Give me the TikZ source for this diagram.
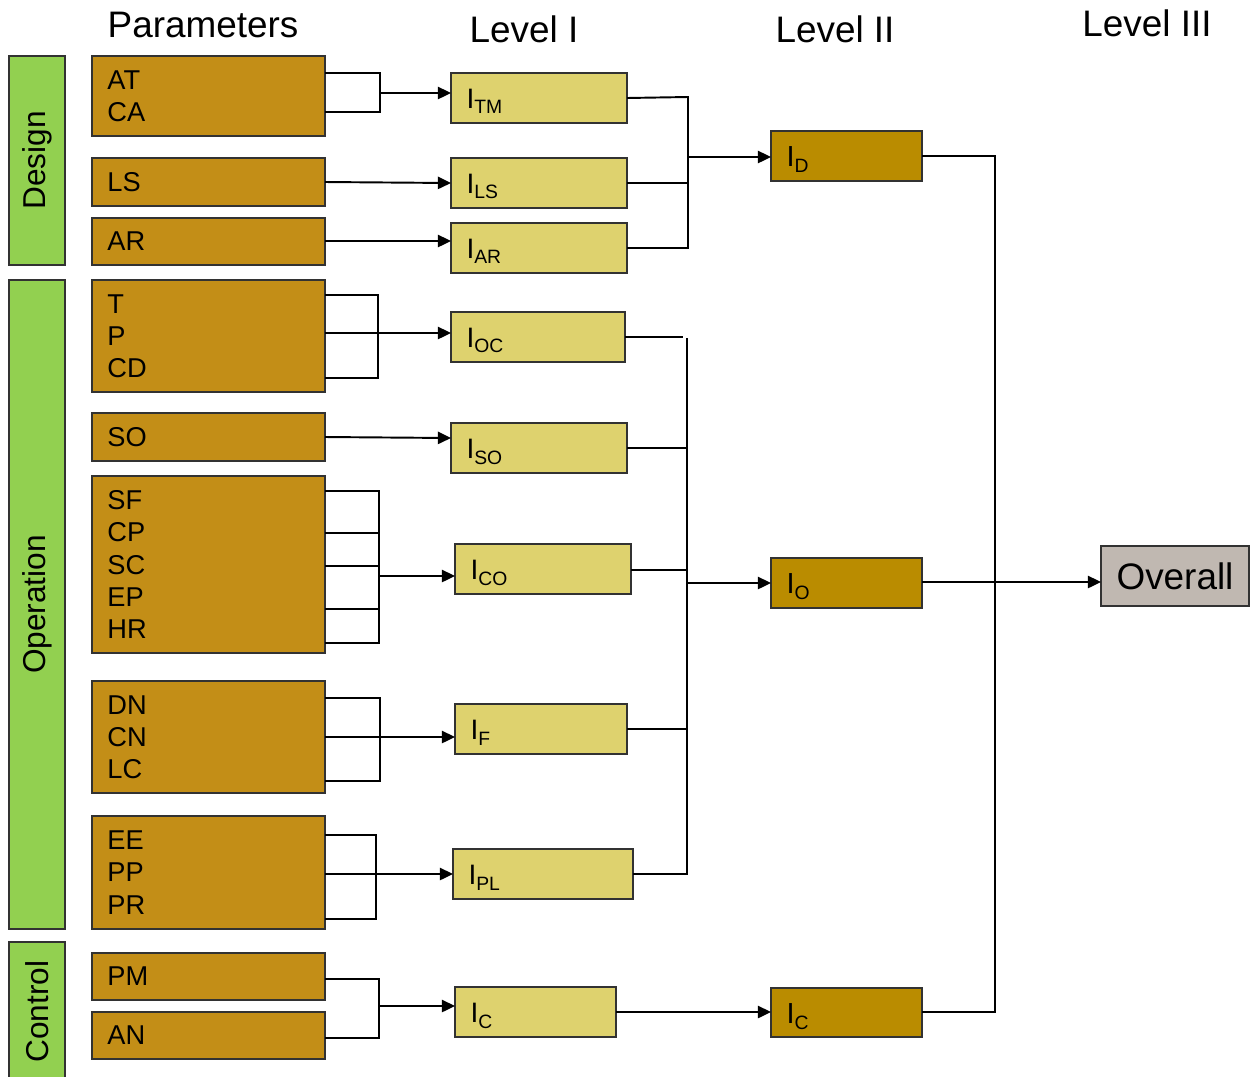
\documentclass[tikz,border=0pt]{standalone}
\usepackage{fontspec}
\setmainfont{Liberation Sans}
\usetikzlibrary{arrows.meta}
\definecolor{pcol}{RGB}{195,142,23}
\definecolor{lonecol}{RGB}{222,210,110}
\definecolor{ltwocol}{RGB}{186,140,0}
\definecolor{gcol}{RGB}{146,208,80}
\definecolor{ovcol}{RGB}{192,184,177}
\definecolor{bcol}{RGB}{50,50,50}
\newcommand\sbs[1]{\raisebox{-3.4pt}{\fontsize{11}{11}\selectfont #1}}
\newcommand\bx[7]{\node[#6, anchor=north west, minimum width={(#4-#2)*0.02cm}, minimum height={(#5-#3)*0.02cm}, text width={(#4-#2)*0.02cm-0.62cm}] (#1) at (#2,#3) {#7};}
\tikzset{
  boxbase/.style={draw=bcol, line width=0.7pt, rectangle, inner xsep=0.31cm, inner ysep=0pt, outer sep=0pt, align=left},
  pbox/.style={boxbase, fill=pcol, font=\fontsize{15.5}{18.3}\selectfont},
  lonebox/.style={boxbase, fill=lonecol, font=\fontsize{16}{18}\selectfont, text height=13pt, text depth=1.6pt},
  ltwobox/.style={boxbase, fill=ltwocol, font=\fontsize{16.5}{18}\selectfont, text height=14pt, text depth=1.6pt},
  gbox/.style={draw=bcol, line width=0.7pt, fill=gcol, rectangle, outer sep=0pt, inner sep=0pt},
  ovbox/.style={draw=bcol, line width=0.7pt, fill=ovcol, rectangle, outer sep=0pt, inner sep=0pt, font=\fontsize{21}{24}\selectfont},
  hdr/.style={anchor=base, font=\fontsize{21}{24}\selectfont, inner sep=0pt},
  ln/.style={line width=1.1pt, draw=black},
  arr/.style={ln, -{Triangle[length=7.5pt,width=7pt]}},
}
\begin{document}
\begin{tikzpicture}[x=0.02cm,y=-0.02cm]
\useasboundingbox (0,0) rectangle (1250,1076);
% headers
\node[hdr] (hpar) at (203,37) {Parameters};
\node[hdr] (hl1) at (524,42) {Level I};
\node[hdr] (hl2) at (835,42) {Level II};
\node[hdr] (hl3) at (1147,36) {Level III};
% green group bars
\node[gbox, anchor=north west, minimum width=1.12cm, minimum height=4.18cm,
  label={[rotate=90,font=\fontsize{18}{20}\selectfont]center:Design}] (gdes) at (9,56) {};
\node[gbox, anchor=north west, minimum width=1.12cm, minimum height=12.98cm,
  label={[rotate=90,font=\fontsize{18}{20}\selectfont]center:Operation}] (gop) at (9,280) {};
\node[gbox, anchor=north west, minimum width=1.12cm, minimum height=2.78cm,
  label={[rotate=90,font=\fontsize{18}{20}\selectfont]center:Control}] (gcon) at (9,942) {};
% parameter boxes
\bx{pAT}{92}{56}{325}{136}{pbox}{AT\\CA}
\bx{pLS}{92}{158}{325}{206}{pbox}{LS}
\bx{pAR}{92}{218}{325}{265}{pbox}{AR}
\bx{pT}{92}{280}{325}{392}{pbox}{T\\P\\CD}
\bx{pSO}{92}{413}{325}{461}{pbox}{SO}
\bx{pSF}{92}{476}{325}{653}{pbox}{SF\\CP\\SC\\EP\\HR}
\bx{pDN}{92}{681}{325}{793}{pbox}{DN\\CN\\LC}
\bx{pEE}{92}{816}{325}{929}{pbox}{EE\\PP\\PR}
\bx{pPM}{92}{953}{325}{1000}{pbox}{PM}
\bx{pAN}{92}{1012}{325}{1059}{pbox}{AN}
% level I
\bx{iTM}{451}{73}{627}{123}{lonebox}{I\sbs{TM}}
\bx{iLS}{451}{158}{627}{208}{lonebox}{I\sbs{LS}}
\bx{iAR}{451}{223}{627}{273}{lonebox}{I\sbs{AR}}
\bx{iOC}{451}{312}{625}{362}{lonebox}{I\sbs{OC}}
\bx{iSO}{451}{423}{627}{473}{lonebox}{I\sbs{SO}}
\bx{iCO}{455}{544}{631}{594}{lonebox}{I\sbs{CO}}
\bx{iF}{455}{704}{627}{754}{lonebox}{I\sbs{F}}
\bx{iPL}{453}{849}{633}{899}{lonebox}{I\sbs{PL}}
\bx{iC}{455}{987}{616}{1037}{lonebox}{I\sbs{C}}
% level II
\bx{iD}{771}{131}{922}{181}{ltwobox}{I\sbs{D}}
\bx{iO}{771}{558}{922}{608}{ltwobox}{I\sbs{O}}
\bx{iCC}{771}{988}{922}{1037}{ltwobox}{I\sbs{C}}
% level III
\node[ovbox, anchor=north west, minimum width=2.96cm, minimum height=1.2cm] (ov) at (1101,546) {Overall};
% parameter -> level I
\coordinate (jTM) at (380,93);
\draw[ln] (pAT.east |- 0,73) -| (jTM |- 0,112) -- (pAT.east |- 0,112);
\draw[arr] (jTM) -- (iTM.west |- jTM);
\draw[arr] (pLS.east) -- (iLS.west |- 0,183);
\draw[arr] (pAR.east |- 0,241) -- (iAR.west |- 0,241);
\coordinate (jOC) at (378,333);
\draw[ln] (pT.east |- 0,295) -| (jOC |- 0,378) -- (pT.east |- 0,378);
\draw[ln] (pT.east |- jOC) -- (jOC);
\draw[arr] (jOC) -- (iOC.west |- jOC);
\draw[arr] (pSO.east |- 0,437) -- (iSO.west |- 0,438);
\coordinate (jCO) at (379,576);
\draw[ln] (pSF.east |- 0,491) -| (jCO |- 0,643) -- (pSF.east |- 0,643);
\foreach \yy in {533,566,609} \draw[ln] (pSF.east |- 0,\yy) -- (jCO |- 0,\yy);
\draw[arr] (jCO) -- (iCO.west |- jCO);
\coordinate (jF) at (380,737);
\draw[ln] (pDN.east |- 0,698) -| (jF |- 0,781) -- (pDN.east |- 0,781);
\draw[ln] (pDN.east |- jF) -- (jF);
\draw[arr] (jF) -- (iF.west |- jF);
\coordinate (jPL) at (376,874);
\draw[ln] (pEE.east |- 0,835) -| (jPL |- 0,919) -- (pEE.east |- 0,919);
\draw[ln] (pEE.east |- jPL) -- (jPL);
\draw[arr] (jPL) -- (iPL.west |- jPL);
\coordinate (jC) at (379,1006);
\draw[ln] (pPM.east |- 0,979) -| (jC |- 0,1038) -- (pAN.east |- 0,1038);
\draw[arr] (jC) -- (iC.west |- jC);
% level I -> level II
\coordinate (jD) at (688,157);
\draw[ln] (iTM.east |- 0,98) -- (jD |- 0,97) -- (jD |- 0,248) -- (iAR.east |- 0,248);
\draw[ln] (iLS.east |- 0,183) -- (jD |- 0,183);
\draw[arr] (jD) -- (iD.west |- jD);
\coordinate (jO) at (687,583);
\draw[ln] (iOC.east |- 0,337) -- (683,337);
\draw[ln] (jO |- 0,338) -- (jO |- 0,874) -- (iPL.east |- 0,874);
\foreach \nm/\yy in {iSO/448,iCO/570,iF/729} \draw[ln] (\nm.east |- 0,\yy) -- (jO |- 0,\yy);
\draw[arr] (jO) -- (iO.west |- jO);
\draw[arr] (iC.east |- 0,1012) -- (iCC.west |- 0,1012);
% level II -> level III
\coordinate (jOV) at (995,582);
\draw[ln] (iD.east |- 0,156) -| (jOV |- 0,1012) -- (iCC.east |- 0,1012);
\draw[ln] (iO.east |- jOV) -- (jOV);
\draw[arr] (jOV) -- (ov.west |- jOV);
\end{tikzpicture}
\end{document}
